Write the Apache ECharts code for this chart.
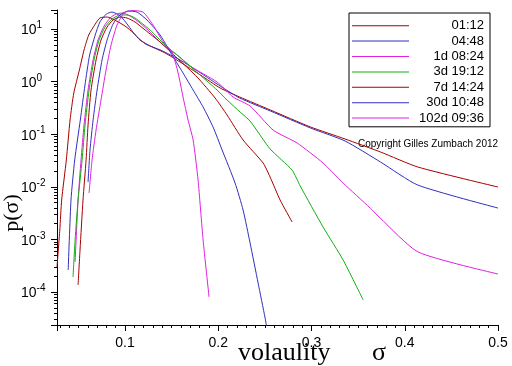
<!DOCTYPE html>
<html>
<head>
<meta charset="utf-8">
<script src="https://cdn.jsdelivr.net/npm/echarts@6/dist/echarts.min.js"></script>
<style>
html,body{margin:0;padding:0;background:#fff;}
#chart{width:512px;height:366px;}
</style>
</head>
<body>
<div id="chart"></div>
<script>
// ---- data: [volatility sigma, p(sigma)] ----
const seriesNames = ['01:12', '04:48', '1d 08:24', '3d 19:12', '7d 14:24', '30d 10:48', '102d 09:36'];
const seriesColors = ['#a80000', '#3030c0', '#e020e0', '#10b010', '#a80000', '#3030c0', '#e020e0'];

const d_0112 = [[0.027,2.98e-4],[0.030,1.51e-3],[0.032,5.6e-3],[0.037,0.0324],[0.041,0.186],[0.045,0.607],[0.051,1.66],[0.056,3.99],[0.061,7.69],[0.068,12.4],[0.073,16.2],[0.081,16.9],[0.089,14.8],[0.100,11.4],[0.109,8.40],[0.116,6.18],[0.127,4.75],[0.143,3.50],[0.159,2.36],[0.181,1.33],[0.202,0.755],[0.223,0.509],[0.256,0.288],[0.299,0.137],[0.336,0.0811],[0.374,0.0459],[0.414,0.0238],[0.500,0.00991]];
const d_0448 = [[0.039,2.62e-4],[0.042,5.6e-3],[0.046,0.0324],[0.052,0.186],[0.057,0.861],[0.062,3.21],[0.068,7.69],[0.073,13.6],[0.080,19.3],[0.086,21.0],[0.095,17.7],[0.103,11.9],[0.111,7.69],[0.122,5.19],[0.138,3.99],[0.159,2.58],[0.181,1.46],[0.202,0.824],[0.223,0.488],[0.256,0.276],[0.299,0.131],[0.336,0.0743],[0.374,0.0296],[0.414,0.0108],[0.500,0.00395]];
const d_1d0824 = [[0.0464,3.72e-4],[0.0496,5.6e-3],[0.0528,0.0324],[0.056,0.150],[0.0603,0.692],[0.0657,2.58],[0.071,6.18],[0.0775,11.4],[0.0839,16.2],[0.0903,19.3],[0.0968,20.1],[0.1054,17.7],[0.1161,13.0],[0.1268,8.77],[0.1408,4.97],[0.1558,3.21],[0.1697,1.98],[0.1987,0.982],[0.2159,0.509],[0.2341,0.344],[0.2588,0.120],[0.2845,0.0681],[0.3124,0.0283],[0.3339,0.0118],[0.3629,0.00395],[0.3736,0.00255],[0.4144,5.75e-4],[0.500,2.20e-4]];
const d_3d1912 = [[0.0442,1.93e-4],[0.0464,9.75e-4],[0.0496,5.6e-3],[0.0539,0.0324],[0.0571,0.150],[0.0614,0.692],[0.0667,2.58],[0.0721,6.18],[0.0785,10.9],[0.0861,15.5],[0.0946,18.5],[0.1021,18.5],[0.1107,16.2],[0.1268,9.57],[0.1429,4.97],[0.1622,2.58],[0.1805,1.33],[0.1987,0.692],[0.2094,0.447],[0.2234,0.264],[0.2341,0.178],[0.2556,0.0524],[0.2792,0.0208],[0.2878,0.0104],[0.3124,0.00172],[0.3339,4.06e-4],[0.3554,7.05e-5]];
const d_7d1424 = [[0.0496,1.36e-4],[0.0517,6.29e-4],[0.0549,5.6e-3],[0.0582,0.0324],[0.0603,0.150],[0.0635,0.692],[0.0689,2.58],[0.0742,6.18],[0.0807,10.9],[0.0871,14.8],[0.0946,16.9],[0.1021,16.2],[0.1107,13.6],[0.1215,9.57],[0.1376,5.66],[0.1558,2.81],[0.1773,1.22],[0.1966,0.488],[0.2094,0.232],[0.2266,0.0776],[0.2481,0.0283],[0.2556,0.0153],[0.2663,0.00561],[0.2792,0.00214]];
const d_30d1048 = [[0.0603,0.0123],[0.0624,0.0501],[0.0657,0.186],[0.070,0.692],[0.0753,2.58],[0.0807,6.18],[0.0871,12.4],[0.0946,18.5],[0.1032,22.0],[0.1129,21.0],[0.1236,14.8],[0.1376,7.69],[0.1536,2.58],[0.1622,1.46],[0.173,0.692],[0.1837,0.329],[0.1944,0.137],[0.2041,0.0501],[0.218,0.0118],[0.2266,0.00362],[0.2341,8.55e-4],[0.2427,1.48e-4],[0.2502,3.21e-5],[0.2524,1.9e-5]];
const d_102d0936 = [[0.0614,0.00762],[0.0646,0.0324],[0.0689,0.120],[0.0742,0.447],[0.0796,1.66],[0.085,4.97],[0.0914,11.9],[0.0989,20.1],[0.1075,22.5],[0.1193,21.0],[0.130,11.9],[0.1408,5.66],[0.1504,3.65],[0.1569,1.46],[0.1622,0.509],[0.1676,0.186],[0.173,0.0776],[0.1783,0.0135],[0.1837,9.75e-4],[0.1901,8.04e-5]];

const allData = [d_0112, d_0448, d_1d0824, d_3d1912, d_7d1424, d_30d1048, d_102d0936];

const xMin = 0.027, xMax = 0.5;
const yMin = 2.36e-5, yMax = 23;

const chart = echarts.init(document.getElementById('chart'), null, {renderer: 'canvas'});
const sans = 'Liberation Sans, Arial, sans-serif';
const serif = 'Liberation Serif, Times New Roman, serif';

chart.setOption({
  animation: false,
  backgroundColor: '#fff',
  grid: {left: 57, right: 14, top: 10, bottom: 41, containLabel: false},
  xAxis: {
    type: 'value', min: xMin, max: xMax,
    axisLine: {lineStyle: {color: '#000', width: 1}},
    axisTick: {show: true, length: 6, lineStyle: {color: '#000'}},
    minorTick: {show: true, splitNumber: 10, length: 3, lineStyle: {color: '#000'}},
    splitLine: {show: false},
    axisLabel: {showMinLabel: false, color: '#000', fontFamily: sans, fontSize: 14, margin: 11,
      formatter: v => String(Math.round(v * 10) / 10)}
  },
  yAxis: {
    type: 'log', logBase: 10, min: yMin, max: yMax,
    axisLine: {show: true, lineStyle: {color: '#000', width: 1}},
    axisTick: {show: true, length: 6, lineStyle: {color: '#000'}},
    minorTick: {show: true, splitNumber: 9, length: 3, lineStyle: {color: '#000'}},
    splitLine: {show: false},
    axisLabel: {
      showMinLabel: false, showMaxLabel: false,
      align: 'left', margin: 36, color: '#000',
      formatter: v => {
        const e = Math.round(Math.log10(v));
        return '{b|10}{s|' + (e < 0 ? '-' + (-e) : e) + '}';
      },
      rich: {
        b: {fontFamily: sans, fontSize: 14, color: '#000', verticalAlign: 'bottom', lineHeight: 17},
        s: {fontFamily: sans, fontSize: 10, color: '#000', verticalAlign: 'top', lineHeight: 17}
      }
    }
  },
  legend: {
    orient: 'vertical', left: 349, top: 13,
    padding: [5, 6, 1, 3],
    borderColor: '#000', borderWidth: 1, backgroundColor: '#fff',
    itemWidth: 57, itemHeight: 1, itemGap: 0, icon: 'rect',
    data: seriesNames,
    formatter: n => '{a|' + n + '}',
    textStyle: {
      fontFamily: sans, fontSize: 13, color: '#000', lineHeight: 15.4,
      rich: {a: {width: 70, align: 'right', fontFamily: sans, fontSize: 13, color: '#000', lineHeight: 15.4}}
    }
  },
  graphic: [
    {type: 'text', left: 358, top: 139, style: {text: 'Copyright Gilles Zumbach 2012', font: '10px ' + sans, fill: '#000'}},
    {type: 'text', x: 238, y: 353, style: {text: 'volaulity', font: '26px ' + serif, fill: '#000', textVerticalAlign: 'middle'}},
    {type: 'text', x: 372, y: 353, style: {text: 'σ', font: '26px ' + serif, fill: '#000', textVerticalAlign: 'middle'}},
    {type: 'text', x: 12, y: 213, rotation: Math.PI / 2, style: {text: 'p(σ)', font: '22px ' + serif, fill: '#000', textAlign: 'center', textVerticalAlign: 'middle'}}
  ],
  series: allData.map((d, i) => ({
    name: seriesNames[i], type: 'line', data: d,
    showSymbol: false, symbol: 'none', smooth: 0.2,
    lineStyle: {width: 1, color: seriesColors[i]},
    itemStyle: {color: seriesColors[i]},
    clip: true
  }))
});
</script>
</body>
</html>
